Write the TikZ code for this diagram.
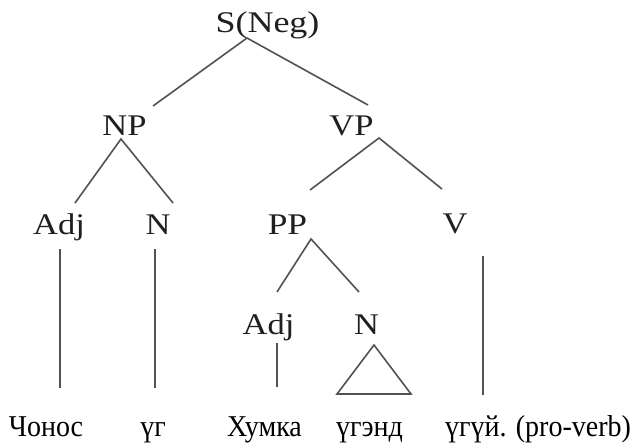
\documentclass[tikz,border=0pt]{standalone}
\usepackage{fontspec}
\setmainfont{Liberation Serif}
\begin{document}
\begin{tikzpicture}[x=1pt,y=-1pt,
  lab/.style={inner sep=0pt, anchor=base, text=black!88, font=\fontsize{30}{36}\selectfont},
  word/.style={inner sep=0pt, anchor=base, text=black, font=\fontsize{28}{34}\selectfont},
  edge/.style={draw=black!68, line width=1.6pt}]
\useasboundingbox (0,0) rectangle (631,444);
\fill[white] (0,0) rectangle (631,444);
% labels
\node[lab] (s)   at (267.5,33)  {\scalebox{1.2}[1]{S(Neg)}};
\node[lab] (np)  at (124.5,135) {\scalebox{1.15}[1]{NP}};
\node[lab] (vp)  at (351.5,135) {\scalebox{1.15}[1]{VP}};
\node[lab] (adja) at (59,234)   {\scalebox{1.15}[1]{Adj}};
\node[lab] (na)  at (158,234)   {\scalebox{1.15}[1]{N}};
\node[lab] (pp)  at (287.5,234) {\scalebox{1.18}[1]{PP}};
\node[lab] (v)   at (455,233)   {\scalebox{1.15}[1]{V}};
\node[lab] (adjb) at (268.5,334) {\scalebox{1.15}[1]{Adj}};
\node[lab] (nb)  at (366.5,334) {\scalebox{1.15}[1]{N}};
% words
\node[word] (w1) at (46,436)  {\scalebox{1}[1.08]{Чонос}};
\node[word] (w2) at (153,436) {\scalebox{1}[1.08]{үг}};
\node[word] (w3) at (264.5,436) {\scalebox{1}[1.08]{Хумка}};
\node[word] (w4) at (369.5,436) {\scalebox{1}[1.08]{үгэнд}};
\node[word] (w5) at (538,436) {\scalebox{1}[1.08]{үгүй. (pro-verb)}};
% connector end points
\coordinate (sA) at (247,38);
\coordinate (sL) at (153,106);
\coordinate (sR) at (368,105);
\coordinate (npA) at (121,139);
\coordinate (npL) at (75,203);
\coordinate (npR) at (173,203);
\coordinate (vpA) at (379,138);
\coordinate (vpL) at (310,190);
\coordinate (vpR) at (442,189);
\coordinate (ppA) at (311,239);
\coordinate (ppL) at (277,292);
\coordinate (ppR) at (359,292);
\coordinate (adjaT) at (60,249);
\coordinate (adjaB) at (60,388);
\coordinate (naT) at (155,249);
\coordinate (naB) at (155,388);
\coordinate (vT) at (483,256);
\coordinate (vB) at (483,395);
\coordinate (adjbT) at (277,343);
\coordinate (adjbB) at (277,387);
\coordinate (triA) at (374,345);
\coordinate (triL) at (337,394);
\coordinate (triR) at (411,394);
% connectors
\draw[edge] (sL) -- (sA) -- (sR);
\draw[edge] (npL) -- (npA) -- (npR);
\draw[edge] (vpL) -- (vpA) -- (vpR);
\draw[edge] (ppL) -- (ppA) -- (ppR);
\draw[edge] (adjaT) -- (adjaB);
\draw[edge] (naT) -- (naB);
\draw[edge] (vT) -- (vB);
\draw[edge] (adjbT) -- (adjbB);
\draw[edge, line join=miter] (triA) -- (triL) -- (triR) -- cycle;
\end{tikzpicture}
\end{document}
